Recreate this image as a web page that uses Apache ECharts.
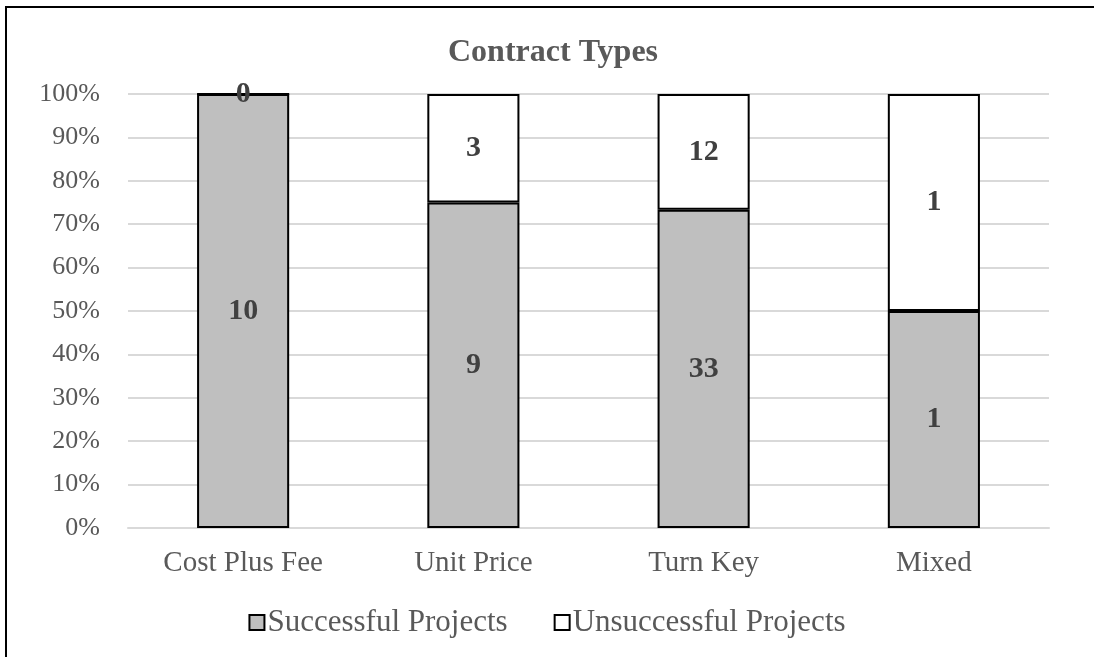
<!DOCTYPE html>
<html><head><meta charset="utf-8">
<script src="https://cdn.jsdelivr.net/npm/echarts@6/dist/echarts.min.js"></script>
<style>html,body{margin:0;padding:0;background:#fff}#c{width:1094px;height:657px}</style>
</head><body><div id="c"></div>
<script>
const categories = ['Cost Plus Fee', 'Unit Price', 'Turn Key', 'Mixed'];
const successful = [10, 9, 33, 1];
const unsuccessful = [0, 3, 12, 1];
const seriesNames = ['Successful Projects', 'Unsuccessful Projects'];
const yTicks = [0, 10, 20, 30, 40, 50, 60, 70, 80, 90, 100];

const totals = categories.map((_, i) => successful[i] + unsuccessful[i]);
const pct = arr => arr.map((v, i) => ({ value: v / totals[i] * 100, raw: v }));
const FONT = '"Liberation Serif", "Times New Roman", serif';

const chart = echarts.init(document.getElementById('c'), null, { renderer: 'canvas' });
const labelCfg = {
  show: true, position: 'inside', fontFamily: FONT, fontSize: 30, fontWeight: 'bold', color: '#404040',
  formatter: p => p.data.raw
};
chart.setOption({
  animation: false,
  backgroundColor: '#fff',
  title: {
    text: 'Contract Types', left: 443, top: 32,
    textStyle: { fontFamily: FONT, fontSize: 32, fontWeight: 'bold', color: '#595959' }
  },
  legend: {
    bottom: 14, left: 'center', itemWidth: 15, itemHeight: 15, itemGap: 46,
    icon: 'rect',
    textStyle: { fontFamily: FONT, fontSize: 31, color: '#595959', padding: [0, 0, 0, -2] },
    data: seriesNames
  },
  grid: { left: 128, right: 45, top: 94, bottom: 129 },
  xAxis: {
    type: 'category', data: categories,
    axisLine: { show: true, lineStyle: { color: '#d9d9d9', width: 2 } },
    axisTick: { show: false },
    axisLabel: { fontFamily: FONT, fontSize: 29, color: '#595959', margin: 21 }
  },
  yAxis: {
    type: 'value', min: 0, max: 100, interval: 10,
    axisLine: { show: false }, axisTick: { show: false },
    splitLine: { lineStyle: { color: '#d9d9d9', width: 2 } },
    axisLabel: { fontFamily: FONT, fontSize: 26, color: '#595959', margin: 28,
      formatter: v => yTicks.includes(v) ? v + '%' : '' }
  },
  series: [
    { name: seriesNames[0], type: 'bar', stack: 'a', barWidth: '40%', data: pct(successful),
      itemStyle: { color: '#bfbfbf', borderColor: '#000', borderWidth: 2 }, label: labelCfg },
    { name: seriesNames[1], type: 'bar', stack: 'a', barWidth: '40%', data: pct(unsuccessful),
      itemStyle: { color: '#ffffff', borderColor: '#000', borderWidth: 2 }, label: labelCfg }
  ],
  graphic: [{
    type: 'polyline', silent: true,
    shape: { points: [[6, 700], [6, 7], [1200, 7]] },
    style: { stroke: '#000', lineWidth: 2, fill: null }
  }]
});
</script></body></html>
